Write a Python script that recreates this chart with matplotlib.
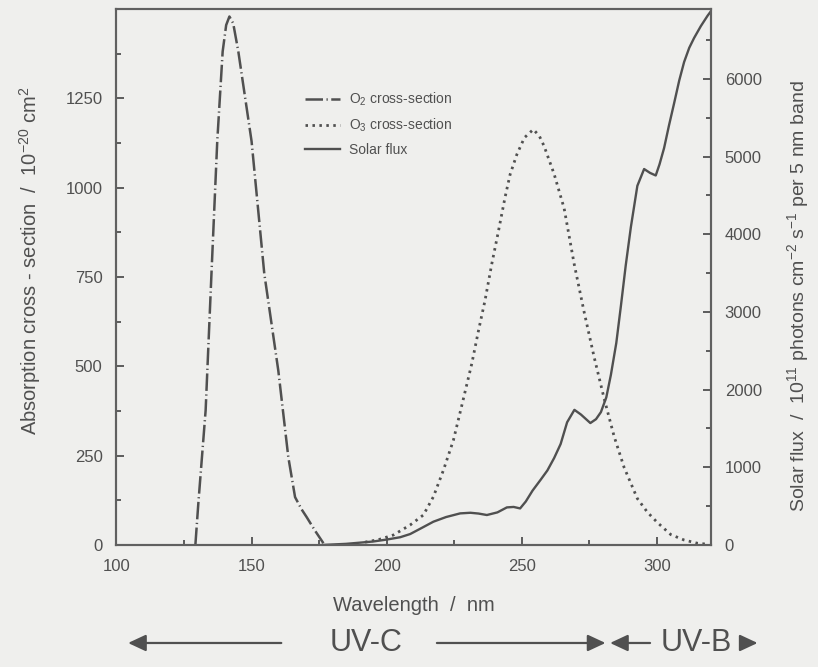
import matplotlib
matplotlib.use('Agg')
import matplotlib.pyplot as plt
import matplotlib.transforms as mtransforms
from matplotlib.ticker import MultipleLocator

plt.rcParams['font.family'] = ['Liberation Sans', 'DejaVu Sans']
plt.rcParams['mathtext.fontset'] = 'custom'
plt.rcParams['mathtext.rm'] = 'Liberation Sans'
plt.rcParams['mathtext.it'] = 'Liberation Sans:italic'

# O2 absorption cross-section (10^-20 cm^2)
o2_wl = [129.2, 130.3, 133.0, 135.2, 137.3, 139.3, 140.6, 141.8, 143.2, 145.1,
         150.0, 154.7, 159.9, 163.6, 166.1, 168.5, 170.4, 173.5, 176.6]
o2_xs = [0, 117, 377, 767, 1130, 1381, 1455, 1479, 1460, 1381,
         1130, 760, 488, 246, 134, 100, 78, 40, 5]

# O3 absorption cross-section (10^-20 cm^2)
o3_wl = [192, 197, 202.5, 208.7, 213.6, 217.3, 221, 224.7, 227.8, 231.5,
         234, 236.4, 238.9, 241.4, 243.8, 245.7, 248.2, 251, 254.3, 256.5,
         258.3, 262, 265.7, 269.4, 273.1, 276.8, 280.5, 284.2, 287.9, 292.8,
         296.5, 300.2, 305.2, 310.1, 315, 319]
o3_xs = [8, 15, 28, 56, 84, 135, 209, 293, 390, 507,
         600, 684, 786, 879, 972, 1037, 1093, 1140, 1163, 1145,
         1116, 1038, 942, 787, 652, 526, 410, 304, 217, 130,
         92, 63, 29, 14, 5, 2]

# solar flux (10^11 photons cm^-2 s^-1 per 5 nm band)
sun_wl = [176, 185, 195, 200, 205, 208.7, 213, 217.3, 222, 227.2,
          231, 234, 237.1, 241, 244.5, 247, 249.4, 251.5, 254, 257,
          259.5, 262, 264.4, 266.8, 269.5, 271.9, 275.4, 277.5, 279.3, 281.3,
          283, 285, 286.7, 288.5, 290.4, 292.8, 295.3, 297.5, 299.6, 301,
          302.7, 304.5, 306.4, 308.3, 310.1, 312, 313.8, 316.3, 318.8, 320]
sun_flux = [0, 15, 45, 70, 100, 141, 220, 300, 360, 407,
            415, 405, 386, 420, 484, 490, 471, 560, 700, 840,
            960, 1120, 1300, 1580, 1740, 1680, 1570, 1620, 1710, 1900,
            2190, 2600, 3075, 3600, 4093, 4624, 4840, 4790, 4757, 4900,
            5111, 5400, 5686, 5980, 6217, 6400, 6527, 6680, 6814, 6870]

bg = '#efefed'
ink = '#505050'
fig = plt.figure(figsize=(8.18, 6.67), dpi=100, facecolor=bg)
ax = fig.add_axes([0.1424, 0.1829, 0.7266, 0.8036], facecolor=bg)
ax2 = ax.twinx()

l1, = ax.plot(o2_wl, o2_xs, color=ink, lw=1.8, linestyle=(0, (7, 1.4, 0.5, 1.4)),
              label='O$_2$ cross-section')
l2, = ax.plot(o3_wl, o3_xs, color=ink, lw=2.0, linestyle=(0, (0.9, 1.6)),
              label='O$_3$ cross-section')
l3, = ax2.plot(sun_wl, sun_flux, color=ink, lw=1.7, label='Solar flux')

ax.set_xlim(100, 320)
ax.set_ylim(0, 1500)
ax2.set_ylim(0, 6900)

ax.xaxis.set_major_locator(MultipleLocator(50))
ax.xaxis.set_minor_locator(MultipleLocator(25))
ax.yaxis.set_major_locator(MultipleLocator(250))
ax.yaxis.set_minor_locator(MultipleLocator(125))
ax2.yaxis.set_major_locator(MultipleLocator(1000))
ax2.yaxis.set_minor_locator(MultipleLocator(500))
ax.set_yticks([0, 250, 500, 750, 1000, 1250])
ax2.set_yticks([0, 1000, 2000, 3000, 4000, 5000, 6000])

for a in (ax, ax2):
    a.tick_params(which='both', direction='in', colors=ink, labelsize=12, width=1.3)
    a.tick_params(which='major', length=6, pad=10)
    a.tick_params(which='minor', length=3.5)
    for s in a.spines.values():
        s.set_color('#606060')
        s.set_linewidth(1.5)
ax.tick_params(top=False, right=False)
ax2.tick_params(which='both', left=False, top=False, bottom=False)

ax.set_xlabel('Wavelength  /  nm', fontsize=14.5, color=ink)
ax.xaxis.set_label_coords(0.5, -0.095)
ax.set_ylabel('Absorption cross - section  /  10$^{-20}$ cm$^{2}$', fontsize=14.5, color=ink)
ax.yaxis.set_label_coords(-0.124, 0.53)
ax2.set_ylabel('Solar flux  /  10$^{11}$ photons cm$^{-2}$ s$^{-1}$ per 5 nm band',
               fontsize=14, color=ink)
ax2.yaxis.set_label_coords(1.125, 0.465)

leg = ax.legend([l1, l2, l3], [l1.get_label(), l2.get_label(), l3.get_label()],
                loc='upper left', bbox_to_anchor=(0.318, 0.848), frameon=False,
                fontsize=10, handlelength=2.5, handletextpad=0.6, labelspacing=0.65,
                borderpad=0, borderaxespad=0)
for t in leg.get_texts():
    t.set_color(ink)

# UV band arrows below the axis
trans = mtransforms.blended_transform_factory(ax.transData, fig.transFigure)
arr_y = 0.036
head = dict(arrowstyle='-|>,head_length=0.6,head_width=0.28', color=ink, lw=1.6,
            mutation_scale=18, shrinkA=0, shrinkB=0)
ax.annotate('', xy=(104.3, arr_y), xytext=(161, arr_y), xycoords=trans,
            textcoords=trans, arrowprops=head, annotation_clip=False)
ax.annotate('', xy=(281, arr_y), xytext=(218.6, arr_y), xycoords=trans,
            textcoords=trans, arrowprops=head, annotation_clip=False)
ax.annotate('', xy=(282.7, arr_y), xytext=(297.5, arr_y), xycoords=trans,
            textcoords=trans, arrowprops=head, annotation_clip=False)
ax.annotate('', xy=(337.3, arr_y), xytext=(331, arr_y), xycoords=trans,
            textcoords=trans, arrowprops=head, annotation_clip=False)
ax.text(192.4, arr_y, 'UV-C', transform=trans, fontsize=22, color=ink,
        ha='center', va='center')
ax.text(314.5, arr_y, 'UV-B', transform=trans, fontsize=22, color=ink,
        ha='center', va='center')

fig.savefig('out.png', dpi=100, facecolor=bg)
